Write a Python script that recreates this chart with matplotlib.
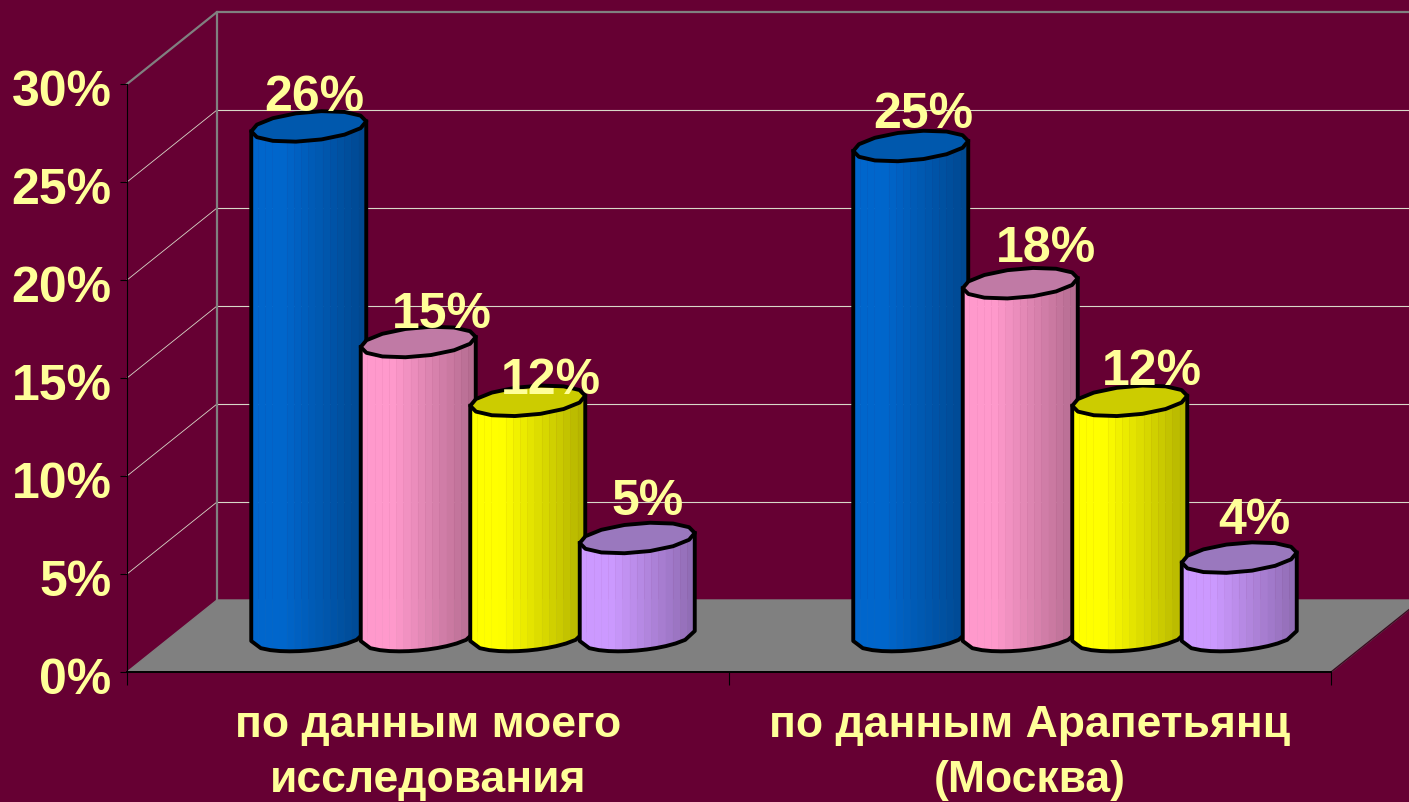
import matplotlib
matplotlib.use("Agg")
import matplotlib.pyplot as plt
import matplotlib.transforms as mtrans
import numpy as np

categories = ["по данным моего\nисследования", "по данным Арапетьянц\n(Москва)"]
blue_vals = [26, 25]
pink_vals = [15, 18]
yellow_vals = [12, 12]
lilac_vals = [5, 4]
y_ticks = [0, 5, 10, 15, 20, 25, 30]
y_labels = ["0%", "5%", "10%", "15%", "20%", "25%", "30%"]

BG = "#660033"
TXT = "#FFFF99"
W, H = 1409, 802
LEFT, RIGHT, TOP, BOTTOM = 127, 1331, 84, 672

# pixel sizes in data units
PX = 2 / (RIGHT - LEFT)
PY = 30 / (BOTTOM - TOP)
DEPTH_X = 90 * PX
DEPTH_Y = 72 * PY

plt.rcParams["font.family"] = ["Liberation Sans", "DejaVu Sans"]

fig = plt.figure(figsize=(W / 100, H / 100), dpi=100, facecolor=BG)
ax = fig.add_axes([LEFT / W, 1 - BOTTOM / H, (RIGHT - LEFT) / W, (BOTTOM - TOP) / H])
ax.patch.set_visible(False)
ax.set_xlim(0, 2)
ax.set_ylim(0, 30)


def draw_cylinder(cx, val, side, top, zorder):
    a = 57.5 * PX
    b = 14.5 * PY
    tilt = 5 * PY
    # faceted ellipse, like the rasterised original
    t = np.linspace(0, 2 * np.pi, 15)
    ex, ey = np.cos(t), np.sin(t)
    base = np.array(side)
    y0 = DEPTH_Y / 2

    def lower(u):
        return -b * np.sqrt(np.clip(1 - u**2, 0, 1)) + tilt * u

    edges = np.linspace(-1, 1, 17)
    for u0, u1 in zip(edges[:-1], edges[1:]):
        mid = (u0 + u1) / 2
        shade = 1.0 if mid < -0.45 else 1.0 - 0.3 * (mid + 0.45) / 1.45
        xs = [cx + u0 * a, cx + u1 * a, cx + u1 * a, cx + u0 * a]
        ys = [y0 + lower(u0), y0 + lower(u1), y0 + val + lower(u1), y0 + val + lower(u0)]
        ax.fill(xs, ys, color=base * shade, lw=0.4, zorder=zorder, clip_on=False)

    # silhouette
    u = np.linspace(-1, 1, 13)
    sx = np.concatenate([[cx - a], cx + u * a, [cx + a]])
    sy = np.concatenate([[y0 + val - tilt], y0 + lower(u), [y0 + val + tilt]])
    ax.plot(sx, sy, color="black", lw=2.8, zorder=zorder + 0.1, clip_on=False, solid_joinstyle="round")

    # top cap
    ax.fill(cx + a * ex, y0 + val + b * ey + tilt * ex, facecolor=top, edgecolor="black",
            lw=2.8, zorder=zorder + 0.2, clip_on=False, joinstyle="round")


# floor and walls
ax.fill([0, 2, 2 + DEPTH_X, DEPTH_X], [0, 0, DEPTH_Y, DEPTH_Y], color="#808080", zorder=1, clip_on=False)
for y in y_ticks[1:-1]:
    ax.plot([DEPTH_X, 2 + DEPTH_X], [y + DEPTH_Y, y + DEPTH_Y], color="#D8D8C8", lw=0.8, zorder=1.5, clip_on=False)
    ax.plot([0, DEPTH_X], [y, y + DEPTH_Y], color="#D8D8C8", lw=0.6, zorder=1.5, clip_on=False)
ax.plot([0, DEPTH_X, 2 + DEPTH_X], [30, 30 + DEPTH_Y, 30 + DEPTH_Y], color="#808080", lw=1.6, zorder=1.5, clip_on=False)
ax.plot([DEPTH_X, DEPTH_X], [DEPTH_Y, 30 + DEPTH_Y], color="#808080", lw=1.6, zorder=1.5, clip_on=False)
ax.plot([2, 2 + DEPTH_X], [0, DEPTH_Y], color="#3A0A20", lw=1.0, zorder=1.5, clip_on=False)

series = [
    (blue_vals, (0.0, 0.4, 0.8), "#0058AD"),
    (pink_vals, (1.0, 0.6, 0.8), "#C07AA5"),
    (yellow_vals, (1.0, 1.0, 0.0), "#CCCC00"),
    (lilac_vals, (0.8, 0.6, 1.0), "#9A78BE"),
]
step = 109.5 * PX
# hand placed data labels in the original: (dx, dy) in pixels per series/category
label_nudge = [
    [(6, 28), (13, 31)],
    [(24, 27), (26, 34)],
    [(23, 20), (22, 29)],
    [(10, 36), (15, 37)],
]

for i, (vals, side, top) in enumerate(series):
    for j, v in enumerate(vals):
        cx = j + 0.5 + (i - 1.5) * step + DEPTH_X / 2
        draw_cylinder(cx, v, side, top, 3 + i + j * 5)
        ax.annotate(f"{v}%", (cx, v + DEPTH_Y / 2), xytext=label_nudge[i][j], textcoords="offset pixels",
                    ha="center", va="center", color=TXT, fontsize=36, fontweight="bold",
                    zorder=30, annotation_clip=False)

# axes
for s in ["top", "right"]:
    ax.spines[s].set_visible(False)
for s in ["left", "bottom"]:
    ax.spines[s].set_color("black")
    ax.spines[s].set_zorder(2.5)
ax.spines["left"].set_linewidth(0.8)
ax.spines["bottom"].set_linewidth(1.4)

ax.set_yticks(y_ticks, y_labels)
ax.tick_params(axis="y", length=5, width=0.8, color="black", labelcolor=TXT, labelsize=36, pad=6)
shift = mtrans.ScaledTranslation(0, -4 / 100, fig.dpi_scale_trans)
for lab in ax.get_yticklabels():
    lab.set_fontweight("bold")
    lab.set_transform(lab.get_transform() + shift)
ax.set_xticks([0, 1, 2], ["", "", ""])
ax.tick_params(axis="x", which="major", length=9, width=0.8, color="black")
ax.set_xticks([0.5, 1.5], categories, minor=True)
ax.tick_params(axis="x", which="minor", length=0, labelcolor=TXT, labelsize=32, pad=24)
for lab in ax.get_xticklabels(minor=True):
    lab.set_fontweight("bold")
    lab.set_linespacing(1.42)

fig.savefig("out.png", dpi=100, facecolor=BG)
